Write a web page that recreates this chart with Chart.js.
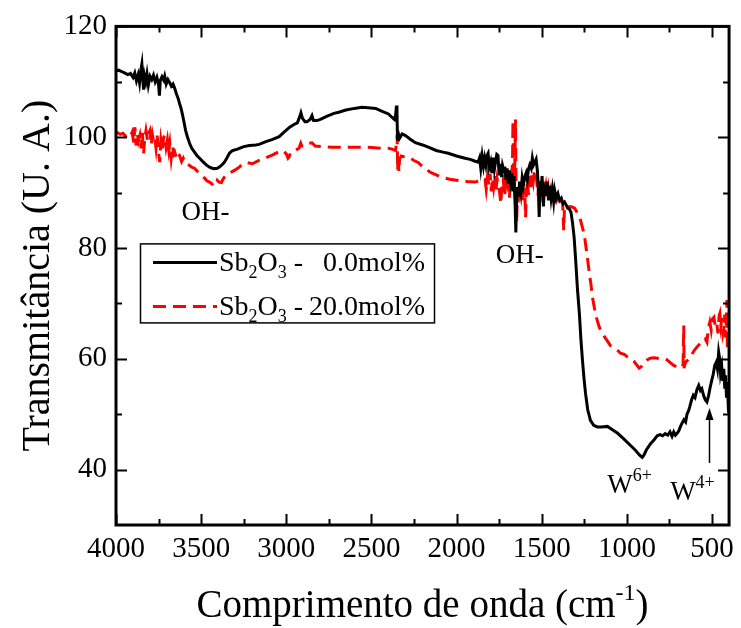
<!DOCTYPE html>
<html><head><meta charset="utf-8">
<script src="https://cdn.jsdelivr.net/npm/chart.js@4"></script>
<style>html,body{margin:0;padding:0;background:#fff;}canvas{display:block;}</style>
</head><body>
<canvas id="c" width="741" height="628"></canvas>
<script>
// [wavenumber (cm-1), transmittance (U.A.)] — Sb2O3 0.0 mol%
const spectrum0 = [
[4000,112.0],[3985,112.1],[3970,111.9],[3950,111.6],[3930,111.3],[3915,111.5],[3900,110.8],[3890,111.6],
[3880,110.2],[3870,111.3],[3862,109.8],[3855,111.9],[3848,113.2],[3843,110.5],[3838,108.6],[3832,111.0],
[3825,110.0],[3818,111.4],[3810,109.4],[3800,111.0],[3790,110.4],[3780,111.2],[3770,110.0],[3760,110.8],
[3750,109.5],[3745,107.5],[3740,110.2],[3730,110.9],[3720,110.3],[3714,111.0],[3705,109.6],[3695,110.4],
[3684,109.8],[3675,109.2],[3665,109.6],[3655,108.8],[3645,107.8],[3635,107.0],[3626,106.0],[3618,105.2],
[3609,104.0],[3600,102.6],[3591,101.2],[3580,100.0],[3568,98.9],[3555,98.0],[3539,97.3],[3525,96.7],
[3509,96.2],[3490,95.6],[3470,95.0],[3451,94.6],[3435,94.4],[3422,94.3],[3405,94.4],[3393,94.6],
[3378,95.0],[3363,95.5],[3348,96.3],[3334,97.1],[3320,97.5],[3305,97.7],[3290,97.8],[3276,98.0],
[3250,98.3],[3217,98.5],[3180,98.6],[3159,98.7],[3120,99.2],[3080,99.6],[3042,100.1],[3010,101.0],
[2980,101.8],[2955,102.3],[2935,102.6],[2920,103.8],[2914,104.4],[2905,103.4],[2890,102.8],[2879,102.8],
[2860,103.2],[2849,103.9],[2840,103.0],[2820,103.0],[2800,103.2],[2760,103.8],[2720,104.3],[2692,104.5],
[2650,104.9],[2600,105.2],[2557,105.4],[2520,105.3],[2475,105.2],[2440,104.7],[2400,104.2],[2380,103.6],
[2365,103.2],[2358,104.0],[2353,105.7],[2350,104.5],[2347,99.4],[2343,100.8],[2335,99.8],[2320,100.6],
[2300,100.3],[2270,99.6],[2242,99.0],[2200,98.6],[2166,98.2],[2120,97.6],[2080,97.3],[2049,97.1],
[2000,96.6],[1950,96.2],[1920,96.0],[1895,95.7],[1874,95.5],[1865,96.3],[1858,94.4],[1850,96.6],
[1842,94.8],[1835,96.2],[1828,95.0],[1820,96.8],[1815,97.1],[1808,94.6],[1800,95.5],[1793,93.5],
[1786,96.3],[1778,94.2],[1770,95.8],[1764,96.9],[1757,96.7],[1750,93.1],[1743,95.2],[1736,92.8],
[1730,94.9],[1722,94.0],[1716,94.2],[1710,92.3],[1703,94.4],[1697,91.6],[1690,94.0],[1683,92.0],
[1676,93.5],[1670,90.2],[1663,93.0],[1656,87.5],[1652,82.8],[1648,88.5],[1642,91.0],[1636,89.3],
[1630,92.0],[1622,90.0],[1615,92.6],[1608,91.3],[1600,92.8],[1592,93.5],[1585,92.3],[1578,94.2],
[1570,95.0],[1562,94.4],[1555,96.2],[1548,95.0],[1540,95.5],[1533,96.0],[1525,93.8],[1520,90.8],
[1515,85.6],[1510,92.0],[1505,89.3],[1498,93.0],[1490,87.5],[1483,91.7],[1476,89.4],[1468,92.0],
[1460,88.6],[1452,91.2],[1445,89.0],[1438,90.6],[1430,88.4],[1424,90.4],[1415,89.0],[1405,89.8],
[1395,88.6],[1385,89.0],[1375,88.0],[1366,88.3],[1355,87.7],[1348,87.2],[1337,87.0],[1328,86.4],
[1319,84.5],[1310,82.0],[1301,78.0],[1290,72.5],[1279,68.2],[1270,63.5],[1261,59.8],[1252,56.5],
[1243,53.8],[1230,50.8],[1214,48.9],[1195,48.0],[1173,47.7],[1150,47.7],[1114,47.8],[1085,47.2],
[1056,46.6],[1020,45.6],[980,44.4],[950,43.5],[925,42.6],[910,42.2],[900,42.6],[885,43.6],
[863,44.6],[840,45.4],[822,46.1],[805,46.3],[790,46.1],[775,46.5],[760,46.2],[747,46.8],
[735,46.0],[725,46.8],[715,46.2],[706,46.5],[695,47.0],[685,47.8],[676,48.4],[665,49.0],
[655,48.6],[647,50.0],[638,50.6],[630,51.4],[620,52.6],[610,53.4],[600,53.0],[589,54.4],
[578,55.2],[568,54.3],[560,54.6],[550,53.4],[540,52.6],[530,52.2],[520,53.4],[510,55.0],
[501,56.2],[493,57.2],[484,58.8],[475,59.4],[468,58.2],[461,61.2],[455,60.0],[450,57.4],
[443,58.6],[437,56.0],[431,58.2],[425,54.6],[420,57.0],[415,53.0],[410,55.8],[405,51.8],[400,52.4]
];
// [wavenumber (cm-1), transmittance (U.A.)] — Sb2O3 20.0 mol%
const spectrum20 = [
[4000,100.9],[3990,100.8],[3975,100.5],[3959,100.7],[3945,100.2],[3932,100.4],[3918,100.0],[3905,100.9],
[3896,99.0],[3889,101.8],[3882,98.5],[3875,100.6],[3868,99.3],[3860,100.3],[3852,98.0],[3845,100.8],
[3838,97.1],[3831,99.8],[3824,101.2],[3815,99.4],[3808,100.7],[3801,101.2],[3793,98.6],[3786,100.4],
[3779,99.2],[3772,99.8],[3765,98.0],[3758,100.3],[3750,97.2],[3743,95.5],[3736,99.4],[3728,97.8],
[3720,100.0],[3714,100.3],[3706,98.2],[3698,99.6],[3690,97.6],[3684,98.9],[3676,96.2],[3668,98.4],
[3660,97.0],[3655,97.3],[3645,96.2],[3636,97.0],[3626,96.7],[3615,95.6],[3605,96.2],[3597,95.5],
[3585,95.2],[3568,94.9],[3555,94.6],[3539,94.4],[3525,93.9],[3509,93.5],[3495,93.0],[3480,92.6],
[3465,92.1],[3451,91.9],[3435,91.5],[3422,91.7],[3412,91.4],[3405,92.2],[3395,91.9],[3381,91.8],
[3372,92.4],[3363,92.8],[3348,93.2],[3334,93.5],[3318,93.8],[3305,94.0],[3290,94.3],[3276,94.6],
[3262,95.0],[3247,95.3],[3230,95.4],[3200,95.2],[3160,95.8],[3118,96.3],[3080,96.8],[3042,97.4],
[3020,97.6],[3000,97.0],[2990,96.2],[2984,96.4],[2975,97.2],[2960,97.5],[2943,97.7],[2925,98.0],
[2915,98.9],[2908,98.4],[2890,98.4],[2870,98.9],[2849,99.0],[2830,98.4],[2790,98.3],[2732,98.2],
[2680,98.2],[2620,98.2],[2580,98.2],[2534,98.2],[2480,98.1],[2440,98.0],[2400,98.0],[2375,97.8],
[2359,97.6],[2352,99.0],[2349,100.4],[2346,94.0],[2343,97.0],[2339,93.8],[2335,96.0],[2325,96.6],
[2300,96.4],[2271,96.2],[2250,95.8],[2224,95.4],[2190,94.4],[2150,93.6],[2120,93.2],[2090,92.8],
[2040,92.4],[1991,92.2],[1940,92.0],[1891,91.9],[1860,92.2],[1845,92.6],[1833,92.4],[1826,90.6],
[1818,93.0],[1810,91.2],[1803,93.4],[1796,90.2],[1790,92.6],[1783,91.0],[1776,93.2],[1770,90.0],
[1762,92.5],[1755,91.4],[1748,90.2],[1740,88.0],[1733,91.8],[1726,92.4],[1718,89.3],[1710,92.0],
[1704,90.8],[1698,91.7],[1690,89.0],[1684,92.2],[1678,93.0],[1672,95.0],[1669,103.0],[1666,96.0],
[1662,91.0],[1658,95.5],[1654,103.2],[1651,92.0],[1647,84.5],[1643,90.4],[1638,88.2],[1632,91.0],
[1626,89.0],[1620,91.6],[1612,88.4],[1606,90.6],[1600,90.4],[1595,85.5],[1590,90.0],[1584,92.2],
[1578,89.6],[1572,93.0],[1565,91.0],[1558,93.5],[1550,92.0],[1543,94.0],[1535,94.0],[1528,91.5],
[1522,89.5],[1516,92.5],[1510,88.3],[1503,91.8],[1497,89.6],[1490,92.0],[1483,90.0],[1476,91.2],
[1468,88.8],[1461,90.6],[1453,88.6],[1446,90.2],[1438,88.9],[1430,89.8],[1424,89.2],[1415,88.4],
[1405,89.0],[1396,87.9],[1388,88.6],[1377,88.0],[1371,83.2],[1366,87.6],[1356,87.6],[1348,87.4],
[1335,87.5],[1322,87.4],[1307,87.2],[1290,86.3],[1272,85.0],[1260,83.6],[1249,82.2],[1243,80.8],
[1231,78.0],[1220,75.4],[1210,73.2],[1202,71.1],[1185,68.2],[1170,66.5],[1162,65.7],[1150,64.9],
[1132,64.0],[1110,63.0],[1097,62.4],[1074,62.0],[1050,61.4],[1038,61.0],[1015,60.8],[1000,60.4],
[980,60.1],[960,59.6],[940,58.8],[928,58.3],[915,58.6],[899,59.3],[881,59.8],[863,60.1],
[840,60.2],[822,60.1],[805,60.0],[785,60.0],[764,59.8],[745,59.3],[725,58.8],[706,58.5],
[690,58.4],[677,58.5],[670,59.0],[666,66.0],[664,58.3],[660,59.0],[650,59.6],[640,59.8],
[630,60.3],[618,60.8],[605,61.5],[589,62.1],[575,62.6],[560,63.2],[548,63.4],[540,63.6],
[530,63.0],[522,65.4],[513,66.6],[505,65.2],[497,67.2],[489,67.5],[480,65.8],[472,66.4],
[465,64.6],[458,67.8],[454,68.2],[448,66.0],[442,67.4],[436,64.5],[431,65.2],[425,68.0],
[420,63.8],[416,66.5],[413,70.6],[410,62.1],[405,64.8],[400,62.5]
];
const seriesValues = ['0.0mol%', '20.0mol%'];
const xMajorTicks = [4000,3500,3000,2500,2000,1500,1000,500];
const xMinorTicks = [3750,3250,2750,2250,1750,1250,750];
const yMajorTicks = [40,60,80,100,120];
const yMinorTicks = [50,70,90,110];
const xTitle = 'Comprimento de onda (cm';
const xTitleSup = '-1';
const yTitle = 'Transmitância (U. A.)';
// annotations: [text, superscript, wavenumber, transmittance, align]
const notes = [
  ['OH-', '', 3474, 85.0, 'center'],
  ['OH-', '', 1629, 77.25, 'center'],
  ['W', '6+', 1115, 35.8, 'left'],
  ['W', '4+', 746, 34.5, 'left']
];
const arrowNote = {x: 519, from: 41.2, to: 51.1};

const SERIF = '"Liberation Serif", "Times New Roman", serif';

const decorPlugin = {
  id: 'decor',
  afterDatasetsDraw(chart) {
    const {ctx, chartArea: a, scales: {x, y}} = chart;
    ctx.save();
    ctx.strokeStyle = '#000';
    ctx.fillStyle = '#000';
    // inward ticks on all four sides
    ctx.lineWidth = 2;
    const xt = (vals, len) => vals.forEach(v => {
      const p = Math.round(x.getPixelForValue(v)) + 0.5;
      ctx.beginPath();
      ctx.moveTo(p, a.bottom); ctx.lineTo(p, a.bottom - len);
      ctx.moveTo(p, a.top); ctx.lineTo(p, a.top + len);
      ctx.stroke();
    });
    const yt = (vals, len) => vals.forEach(v => {
      const p = Math.round(y.getPixelForValue(v)) + 0.5;
      ctx.beginPath();
      ctx.moveTo(a.left, p); ctx.lineTo(a.left + len, p);
      ctx.moveTo(a.right, p); ctx.lineTo(a.right - len, p);
      ctx.stroke();
    });
    xt(xMajorTicks, 11); xt(xMinorTicks, 6);
    yt(yMajorTicks, 11); yt(yMinorTicks, 6);
    ctx.lineWidth = 3;
    ctx.strokeRect(a.left, a.top, a.right - a.left, a.bottom - a.top);

    // axis titles
    ctx.textBaseline = 'alphabetic';
    ctx.font = '39px ' + SERIF;
    const mainW = ctx.measureText(xTitle).width;
    ctx.font = '24px ' + SERIF;
    const supW = ctx.measureText(xTitleSup).width;
    ctx.font = '39px ' + SERIF;
    const closeW = ctx.measureText(')').width;
    const total = mainW + supW + closeW;
    let tx = (a.left + a.right) / 2 - total / 2;
    const ty = 617;
    ctx.textAlign = 'left';
    ctx.fillText(xTitle, tx, ty);
    ctx.font = '24px ' + SERIF;
    ctx.fillText(xTitleSup, tx + mainW, ty - 17);
    ctx.font = '39px ' + SERIF;
    ctx.fillText(')', tx + mainW + supW, ty);

    ctx.save();
    ctx.translate(49, (a.top + a.bottom) / 2);
    ctx.rotate(-Math.PI / 2);
    ctx.textAlign = 'center';
    ctx.font = '40px ' + SERIF;
    ctx.fillText(yTitle, 0, 0);
    ctx.restore();

    // annotations
    notes.forEach(([t, sup, wx, wy, al]) => {
      ctx.font = '27px ' + SERIF;
      const px = x.getPixelForValue(wx), py = y.getPixelForValue(wy);
      const w = ctx.measureText(t).width;
      ctx.font = '18px ' + SERIF;
      const sw = sup ? ctx.measureText(sup).width : 0;
      let left = al === 'center' ? px - (w + sw) / 2 : px;
      ctx.textAlign = 'left';
      ctx.font = '27px ' + SERIF;
      ctx.fillText(t, left, py);
      if (sup) { ctx.font = '18px ' + SERIF; ctx.fillText(sup, left + w, py - 12); }
    });
    // arrow
    const ax = Math.round(x.getPixelForValue(arrowNote.x)) + 0.5;
    const ay0 = y.getPixelForValue(arrowNote.from), ay1 = y.getPixelForValue(arrowNote.to);
    ctx.lineWidth = 1.5;
    ctx.beginPath(); ctx.moveTo(ax, ay0); ctx.lineTo(ax, ay1 + 8); ctx.stroke();
    ctx.beginPath(); ctx.moveTo(ax, ay1); ctx.lineTo(ax - 4, ay1 + 12); ctx.lineTo(ax + 4, ay1 + 12); ctx.closePath(); ctx.fill();

    // legend
    const lx = a.left + 24, ly = a.top + 217, lw = 294, lh = 79;
    ctx.lineWidth = 1.5;
    ctx.strokeRect(lx + 0.5, ly + 0.5, lw, lh);
    chart.data.datasets.forEach((ds, i) => {
      const rowY = ly + 19 + i * 44;
      ctx.save();
      ctx.strokeStyle = ds.borderColor;
      ctx.lineWidth = ds.borderWidth;
      ctx.setLineDash(ds.borderDash || []);
      ctx.beginPath(); ctx.moveTo(lx + 13, rowY); ctx.lineTo(lx + 77, rowY); ctx.stroke();
      ctx.restore();
      const base = rowY + 9;
      let cx = lx + 79;
      const seg = (s, size, dy) => {
        ctx.font = size + 'px ' + SERIF;
        ctx.fillText(s, cx, base + dy);
        cx += ctx.measureText(s).width;
      };
      ctx.textAlign = 'left';
      seg('Sb', 28, 0); seg('2', 18, 7); seg('O', 28, 0); seg('3', 18, 7); seg(' -', 28, 0);
      ctx.font = '28px ' + SERIF;
      ctx.textAlign = 'right';
      ctx.fillText(ds.label, lx + lw - 9, base);
    });
    ctx.restore();
  }
};

new Chart(document.getElementById('c'), {
  type: 'line',
  data: {
    datasets: [
      {label: seriesValues[0], data: spectrum0.map(([wx, wy]) => ({x: wx, y: wy})),
       borderColor: '#000000', borderWidth: 3, pointRadius: 0, tension: 0, fill: false},
      {label: seriesValues[1], data: spectrum20.map(([wx, wy]) => ({x: wx, y: wy})),
       borderColor: '#ff0000', borderWidth: 3, borderDash: [13, 7], pointRadius: 0, tension: 0, fill: false}
    ]
  },
  options: {
    responsive: false,
    animation: false,
    devicePixelRatio: 1,
    layout: {padding: {top: 26, right: 8, left: 0, bottom: 0}},
    plugins: {legend: {display: false}, tooltip: {enabled: false}},
    scales: {
      x: {
        type: 'linear', reverse: true, min: 400, max: 4000,
        afterBuildTicks: s => { s.ticks = xMajorTicks.map(v => ({value: v})); },
        afterFit: s => { s.height = 103; },
        grid: {display: false, drawTicks: false},
        border: {display: false},
        ticks: {padding: 7, color: '#000', font: {family: SERIF, size: 29}, maxRotation: 0, autoSkip: false,
                callback: v => String(v)}
      },
      y: {
        type: 'linear', min: 30, max: 120,
        afterBuildTicks: s => { s.ticks = yMajorTicks.map(v => ({value: v})); },
        afterFit: s => { s.width = 116; },
        grid: {display: false, drawTicks: false},
        border: {display: false},
        ticks: {padding: 9, color: '#000', font: {family: SERIF, size: 29}, autoSkip: false,
                callback: v => String(v)}
      }
    }
  },
  plugins: [decorPlugin]
});
</script>
</body></html>
